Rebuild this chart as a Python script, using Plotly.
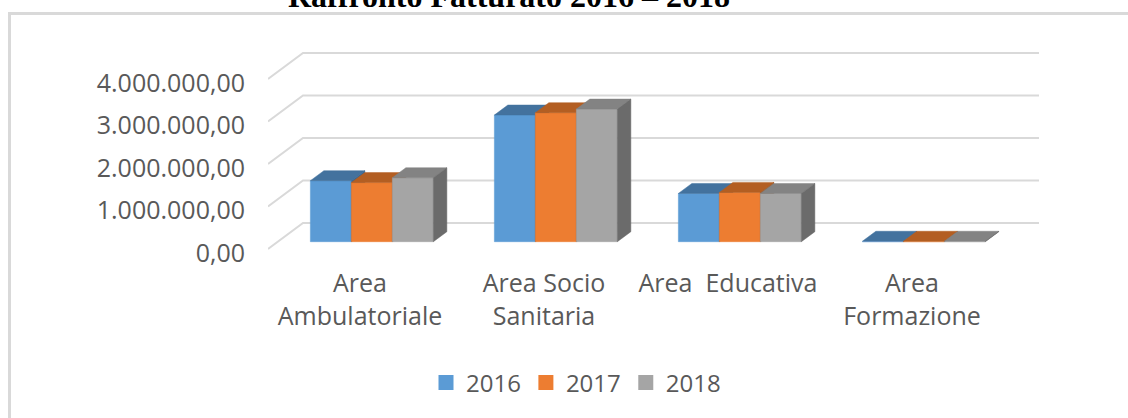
import plotly.graph_objects as go

# ---------------- data ----------------
categories = ["Area<br>Ambulatoriale", "Area Socio<br>Sanitaria", "Area\u00a0 Educativa", "Area<br>Formazione"]
years = ["2016", "2017", "2018"]
v2016 = [1435000, 2980000, 1135000, 10000]
v2017 = [1390000, 3035000, 1160000, 10000]
v2018 = [1505000, 3120000, 1135000, 10000]
ytick_vals = [0, 1000000, 2000000, 3000000, 4000000]
ytick_text = ["0,00", "1.000.000,00", "2.000.000,00", "3.000.000,00", "4.000.000,00"]
title_text = "Raffronto Fatturato 2016 – 2018"

series = [v2016, v2017, v2018]
front_colors = ["#5B9BD5", "#ED7D31", "#A5A5A5"]
top_colors = ["#43729E", "#B35E22", "#838383"]
side_colors = ["#3B6690", "#9E521D", "#6B6B6B"]

# ---------------- geometry (pixels) ----------------
W, H = 1128, 418
ML, MR, MT, MB = 268, 68, 30, 156
PW = W - ML - MR
PH = H - MT - MB
XS = 184.0            # px per category band
YS = 42.5 / 1e6       # px per value unit
VPP = 1.0 / YS        # value per px
FLOOR_DX, FLOOR_DY = 35.0, 26.0
BAR_OFF_DX, BAR_OFF_DY = 9.8, 7.3
BAR_D_DX, BAR_D_DY = 13.5, 10.0
BAR_START = 0.177
BAR_W = 0.2228
Y0_PX = 249.0         # pixel of value 0 on the front plane

x_range = [0, PW / XS]
y_bottom_px = MT + PH
y_range = [-(y_bottom_px - Y0_PX) * VPP, (Y0_PX - MT) * VPP]

fig = go.Figure()

# back wall gridlines with diagonal left ends
gdx = FLOOR_DX / XS
gdy = FLOOR_DY * VPP
for v in ytick_vals:
    fig.add_trace(go.Scatter(
        x=[0, gdx, len(categories) + gdx],
        y=[v, v + gdy, v + gdy],
        mode="lines", line=dict(color="#D9D9D9", width=2),
        showlegend=False, hoverinfo="skip"))

# 3D bars
odx = BAR_OFF_DX / XS
ody = BAR_OFF_DY * VPP
bdx = BAR_D_DX / XS
bdy = BAR_D_DY * VPP
for i in range(len(categories)):
    for k, vals in enumerate(series):
        v = vals[i]
        x0 = i + BAR_START + k * BAR_W + odx
        x1 = x0 + BAR_W
        yb = ody
        yt = ody + v
        # front
        fig.add_trace(go.Scatter(
            x=[x0, x1, x1, x0, x0], y=[yb, yb, yt, yt, yb],
            fill="toself", fillcolor=front_colors[k], mode="lines",
            line=dict(color=front_colors[k], width=0.5),
            showlegend=False, hoverinfo="skip"))
        # top
        fig.add_trace(go.Scatter(
            x=[x0, x1, x1 + bdx, x0 + bdx, x0], y=[yt, yt, yt + bdy, yt + bdy, yt],
            fill="toself", fillcolor=top_colors[k], mode="lines",
            line=dict(color=top_colors[k], width=0.5),
            showlegend=False, hoverinfo="skip"))
        # side
        fig.add_trace(go.Scatter(
            x=[x1, x1, x1 + bdx, x1 + bdx, x1], y=[yb, yt, yt + bdy, yb + bdy, yb],
            fill="toself", fillcolor=side_colors[k], mode="lines",
            line=dict(color=side_colors[k], width=0.5),
            showlegend=False, hoverinfo="skip"))

# legend entries
for k, name in enumerate(years):
    fig.add_trace(go.Scatter(
        x=[None], y=[None], mode="markers", name=name,
        marker=dict(symbol="square", size=15, color=front_colors[k])))


def px_to_paper_x(px):
    return (px - ML) / PW


def px_to_paper_y(py):
    return (MT + PH - py) / PH


fig.update_layout(
    width=W, height=H,
    margin=dict(l=ML, r=MR, t=MT, b=MB, autoexpand=False),
    paper_bgcolor="white", plot_bgcolor="white",
    xaxis=dict(range=x_range, showgrid=False, zeroline=False, showline=False,
               tickmode="array", tickvals=[i + 0.5 for i in range(len(categories))],
               ticktext=categories, ticks="",
               tickfont=dict(family="Open Sans", size=25, color="#595959"),
               ticklabelstandoff=4, fixedrange=True, automargin=False),
    yaxis=dict(range=y_range, showgrid=False, zeroline=False, showline=False,
               tickmode="array", tickvals=ytick_vals, ticktext=ytick_text, ticks="",
               tickfont=dict(family="Open Sans", size=25, color="#595959"),
               ticklabelstandoff=22, ticklabelshift=4, fixedrange=True, automargin=False),
    showlegend=True,
    legend=dict(orientation="h", x=px_to_paper_x(576), xanchor="center",
                y=px_to_paper_y(383), yanchor="middle",
                font=dict(family="Open Sans", size=24, color="#595959"),
                bgcolor="rgba(0,0,0,0)", itemclick=False, itemdoubleclick=False),
    annotations=[dict(text="<b>" + title_text + "</b>", xref="paper", yref="paper",
                      x=px_to_paper_x(509), y=px_to_paper_y(-4), xanchor="center", yanchor="middle",
                      showarrow=False, font=dict(family="Liberation Serif", size=32, color="black"))],
    shapes=[
        dict(type="line", xref="paper", yref="paper",
             x0=px_to_paper_x(9.5), x1=px_to_paper_x(9.5),
             y0=px_to_paper_y(12), y1=px_to_paper_y(430),
             line=dict(color="#D9D9D9", width=3)),
        dict(type="line", xref="paper", yref="paper",
             x0=px_to_paper_x(8), x1=px_to_paper_x(1140),
             y0=px_to_paper_y(13.5), y1=px_to_paper_y(13.5),
             line=dict(color="#D9D9D9", width=3)),
    ],
)

fig.write_html("out.html")
